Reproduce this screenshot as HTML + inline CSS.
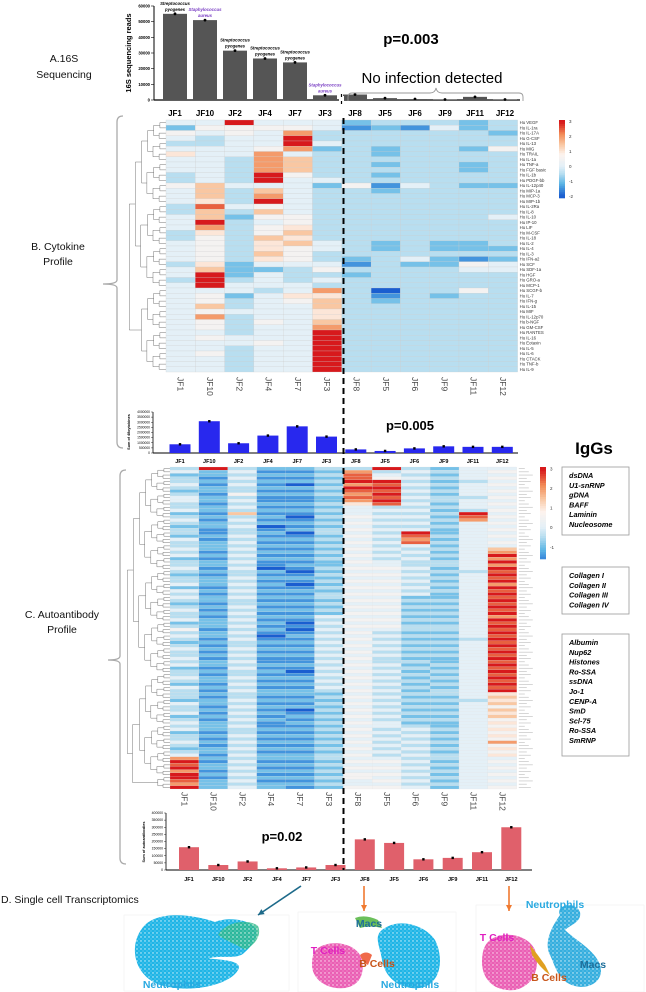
<!DOCTYPE html>
<html><head><meta charset="utf-8">
<style>
html,body{margin:0;padding:0;background:#fff;}
svg{display:block;font-family:"Liberation Sans",sans-serif;}
</style></head>
<body>
<svg id="fig" width="646" height="992" viewBox="0 0 646 992" xmlns="http://www.w3.org/2000/svg">
<defs>
<pattern id="speck" width="4" height="4" patternUnits="userSpaceOnUse"><circle cx="1" cy="1" r="0.7" fill="#fff" opacity="0.85"/><circle cx="3" cy="3" r="0.5" fill="#fff" opacity="0.6"/></pattern>
</defs>
<g id="root"></g>
</svg>
<script>
// ---------- DATA ----------
const patients = ["JF1","JF10","JF2","JF4","JF7","JF3","JF8","JF5","JF6","JF9","JF11","JF12"];
const reads16S = [55000,51000,31500,26500,24000,3000,3500,1200,600,300,2000,300];
const readTicks = [0,10000,20000,30000,40000,50000,60000];
const species = [["Streptococcus","pyogenes","#000"],["Staphylococcus","aureus","#7a3fc4"],["Streptococcus","pyogenes","#000"],["Streptococcus","pyogenes","#000"],["Streptococcus","pyogenes","#000"],["Staphylococcus","aureus","#7a3fc4"]];
const cytokineSums = [850000,3100000,950000,1700000,2600000,1600000,350000,200000,450000,650000,600000,600000];
const cytokineTicks = [0,500000,1000000,1500000,2000000,2500000,3000000,3500000,4000000];
const autoSums = [160000,35000,60000,12000,18000,35000,215000,190000,75000,85000,125000,300000];
const autoTicks = [0,50000,100000,150000,200000,250000,300000,350000,400000];
const cytokines = ["VEGF","IL-1ra","IL-17A","G-CSF","IL-13","MIG","TRAIL","IL-1a","TNF-a","FGF basic","IL-1b","PDGF-bb","IL-12p40","MIP-1a","MCP-3","MIP-1b","IL-2Ra","IL-8","IL-10","IP-10","LIF","M-CSF","IL-18","IL-2","IL-4","IL-3","IFN-a2","SCF","SDF-1a","HGF","GRO-a","MCP-1","SCGF-b","IL-7","IFN-g","IL-15","MIF","IL-12p70","b-NGF","GM-CSF","RANTES","IL-16","Eotaxin","IL-5","IL-6","CTACK","TNF-b","IL-9"];
// one string per cytokine row, one char per patient (code: digit d -> d*0.5-2, R -> 3)
const cytoRows = ["44R444233323","255554121423","545483333332","4344R3333333","3344R4333333","444582323325","644843323333","443873333333","443873323323","443873333323","343R53323333","343R44333333","574442514322","473743323333","473843333333","463R43333333","394543333333","373743333333","472553333334","4R3453333333","483563333333","363573333333","353763333333","453674323223","453654323222","453753333333","453653234212","362444132254","472235333344","4R2433233333","3R3434333333","4R4443333333","444348303353","452466313233","453457323333","473447333333","454446333333","483446333333","453547333333","453448333333","44344R333333","45444R333333","44454R333333","44344R333333","45344R333333","44344R333333","44344R333333","44344R333333"];
// autoantibody heatmap: one string per patient column, one char per antigen row
const autoCols = [
"3423343234 4334234323 3243343423 3432334243 4323433423 5343234334 3423343243 3324334234 3423343234 8R9R8RR98R",
"R221212212 2122121221 1212221212 2121222121 2212121222 1221212121 2212122121 2122121212 2212121221 2122121222",
"3434343353 4343734343 3434343434 3433434343 4334343434 3434334343 4343343434 3343434343 4334343434 3434343434",
"2121212121 1212121201 2121212121 1021212121 2121212121 2101212121 1212121212 2121212121 1212121212 2121212122",
"2121202121 1212101212 0121212121 2101210121 2121212101 0121212121 1210121212 2121201212 1212121212 2121212121",
"3232323232 2323232323 3232323232 2323232323 3232324343 4343434343 4343434343 2323232323 2323232323 3232323232",
"3899R8R989 8644454545 4545454545 4545454545 4545454545 4545454545 4545454545 4545454545 4545454545 4545455445",
"R345R9R9R9 R934343434 3434343434 4545454545 4545454545 4343434343 3434343434 3434343434 4343434343 4545454545",
"3434343434 3434343434 R989434343 3434343434 2323232323 3232323232 3232323232 3232323232 3434343434 3434343434",
"2323232323 3232323232 2323232323 3232323232 2323232323 3232323232 2323232323 3232323232 2323232323 3232323232",
"4444344443 4443R98444 4444444444 4434444444 4444444444 4443444444 4444444444 4434444444 4444444444 4444444444",
"4545454545 4545454545 4545478R8R 8R9R9R8R9R 9R9R9R8R9R 9R9R9R9R9R 9R9R9R9R9R 6767576756 5656585656 4545454545"];
const igg1 = ["dsDNA","U1-snRNP","gDNA","BAFF","Laminin","Nucleosome"];
const igg2 = ["Collagen I","Collagen II","Collagen III","Collagen IV"];
const igg3 = ["Albumin","Nup62","Histones","Ro-SSA","ssDNA","Jo-1","CENP-A","SmD","Scl-75","Ro-SSA","SmRNP"];
const colorTicks = [3,2,1,0,-1,-2];

// ---------- HELPERS ----------
const NS="http://www.w3.org/2000/svg";
const root=document.getElementById('root');
function mk(tag,attrs,parent,text){const e=document.createElementNS(NS,tag);for(const k in attrs)e.setAttribute(k,attrs[k]);if(text!==undefined)e.textContent=text;(parent||root).appendChild(e);return e;}
function code(c){return c==='R'?3:(parseInt(c,10)*0.5-2);}
const stops=[[-2,[26,94,208]],[-1.2,[91,181,229]],[-0.5,[184,222,240]],[0,[228,240,247]],[0.8,[253,243,238]],[1.5,[249,199,162]],[2.2,[242,138,85]],[3,[215,25,28]]];
function col(v){if(v<=stops[0][0])return 'rgb('+stops[0][1]+')';for(let i=1;i<stops.length;i++){if(v<=stops[i][0]){const a=stops[i-1],b=stops[i],t=(v-a[0])/(b[0]-a[0]);return 'rgb('+a[1].map((x,j)=>Math.round(x+(b[1][j]-x)*t)).join(',')+')';}}return 'rgb('+stops[stops.length-1][1]+')';}
function dendro(g,n,x0,x1,y0,rh){ // decorative tree
  let nodes=[];for(let i=0;i<n;i++)nodes.push({y:y0+(i+0.5)*rh,x:x1});
  let depth=0;
  while(nodes.length>1){depth++;const next=[];
    for(let i=0;i<nodes.length;i+=2){
      if(i+1>=nodes.length){next.push(nodes[i]);continue;}
      const a=nodes[i],b=nodes[i+1];const nx=x1-(x1-x0)*Math.min(1,depth/Math.log2(n)*0.9+ (i%4)*0.01);
      mk('path',{d:`M${a.x},${a.y}H${nx}V${b.y}H${b.x}`,fill:'none',stroke:'#777','stroke-width':0.5},g);
      next.push({x:nx,y:(a.y+b.y)/2});}
    nodes=next;}
}
function brace(g,x,y0,y1,tipY,tipX){mk('path',{d:`M${x+6},${y0}Q${x},${y0} ${x},${y0+6}V${tipY-4}Q${x},${tipY} ${tipX},${tipY}Q${x},${tipY} ${x},${tipY+4}V${y1-6}Q${x},${y1} ${x+6},${y1}`,fill:'none',stroke:'#aaa','stroke-width':1.3},g);}

// ---------- LEFT LABELS ----------
const lab=mk('g',{});
[["A.16S",64,62],["Sequencing",64,78],["B. Cytokine",58,250],["Profile",58,265],["C. Autoantibody",62,618],["Profile",62,633]].forEach(t=>mk('text',{x:t[1],y:t[2],'font-size':10.5,'text-anchor':'middle',fill:'#111'},lab,t[0]));
mk('text',{x:1,y:903,'font-size':10.5,fill:'#111',},root,"D. Single cell Transcriptomics");
const br=mk('g',{});
brace(br,117,116,448,284,103);
brace(br,120,470,864,660,108);

// ---------- A: 16S BAR CHART ----------
const gA=mk('g',{});
const aBase=100,aTop=6,aMax=60000;
const ya=v=>aBase-(v/aMax)*(aBase-aTop);
const xa=i=>175+i*30;
mk('line',{x1:154,y1:aTop,x2:154,y2:aBase,stroke:'#000','stroke-width':1},gA);
mk('line',{x1:154,y1:aBase,x2:520,y2:aBase,stroke:'#000','stroke-width':1.2},gA);
readTicks.forEach(t=>{mk('line',{x1:151,y1:ya(t),x2:154,y2:ya(t),stroke:'#000','stroke-width':0.6},gA);mk('text',{x:150,y:ya(t)+1.5,'font-size':4.2,'text-anchor':'end','font-weight':'bold'},gA,String(t));});
mk('text',{transform:`translate(131,53) rotate(-90)`,'font-size':7.5,'font-weight':'bold','text-anchor':'middle',},gA,"16S sequencing reads");
reads16S.forEach((v,i)=>{
  const b=mk('rect',{x:xa(i)-12,y:ya(v),width:24,height:aBase-ya(v),fill:'#555'},gA);
  
  
  mk('circle',{cx:xa(i),cy:ya(v),r:1.4,fill:'#000'},gA);
  mk('text',{x:xa(i),y:116,'font-size':8,'font-weight':'bold','text-anchor':'middle'},gA,patients[i]);
});
species.forEach((s,i)=>{const ty=ya(reads16S[i])-9;mk('text',{x:xa(i),y:ty,'font-size':4.3,'font-style':'italic','font-weight':'bold','text-anchor':'middle',fill:s[2]},gA,s[0]);mk('text',{x:xa(i),y:ty+6,'font-size':4.3,'font-style':'italic','font-weight':'bold','text-anchor':'middle',fill:s[2]},gA,s[1]);});
mk('rect',{x:339,y:96,width:5,height:8,fill:'#fff'},gA);
mk('line',{x1:341.5,y1:94,x2:341.5,y2:97,stroke:'#000','stroke-width':1.2},gA);
mk('line',{x1:341.5,y1:101,x2:341.5,y2:104,stroke:'#000','stroke-width':1.2},gA);
mk('text',{x:411,y:44,'font-size':15,'font-weight':'bold','text-anchor':'middle',},gA,"p=0.003");
mk('text',{x:432,y:83,'font-size':15,'text-anchor':'middle',},gA,"No infection detected");
mk('path',{d:'M348,101V97Q348,93 352,93H430Q435,93 436,88Q437,93 442,93H519Q523,93 523,97V101',fill:'none',stroke:'#999','stroke-width':0.9,},gA);

// ---------- B: CYTOKINE HEATMAP ----------
const gB=mk('g',{});
const bx0=166,bcw=29.3,by0=120,brh=5.25;
dendro(gB,cytokines.length,128,bx0,by0,brh);
cytoRows.forEach((row,r)=>{row.split('').forEach((c,j)=>{
  const cell=mk('rect',{x:bx0+j*bcw,y:by0+r*brh,width:bcw,height:brh,fill:col(code(c)),stroke:'#ccc','stroke-width':0.25},gB);
  
  
});
  mk('text',{x:bx0+12*bcw+2,y:by0+r*brh+brh*0.8,'font-size':4.3,fill:'#333'},gB,"Hu "+cytokines[r]);
});
patients.forEach((p,j)=>{
  mk('text',{transform:`translate(${bx0+(j+0.5)*bcw-3},${by0+48*brh+5}) rotate(90)`,'font-size':8.5,fill:'#444'},gB,p);
});
function colorbar(g,x,y,h,lo,hi){const n=40;for(let i=0;i<n;i++){const v=hi-(hi-lo)*i/(n-1);mk('rect',{x:x,y:y+i*h/n,width:6,height:h/n+0.3,fill:col(v)},g);}
  colorTicks.forEach(t=>{if(t>=lo&&t<=hi)mk('text',{x:x+10,y:y+(hi-t)/(hi-lo)*h+1.5,'font-size':4.5,fill:'#333'},g,String(t));});}
const cb1=mk('g',{},gB);
colorbar(cb1,559,120,78,-2.1,3.1);

// ---------- B: CYTOKINE SUM BAR ----------
const gB2=mk('g',{});
const cBase=453,cTop=412,cMax=4000000;
const yc=v=>cBase-(v/cMax)*(cBase-cTop);
const xc=i=>180+i*29.3;
mk('line',{x1:153,y1:cTop,x2:153,y2:cBase,stroke:'#000','stroke-width':0.8},gB2);
mk('line',{x1:153,y1:cBase,x2:518,y2:cBase,stroke:'#000','stroke-width':1},gB2);
cytokineTicks.forEach(t=>{mk('line',{x1:151,y1:yc(t),x2:153,y2:yc(t),stroke:'#000','stroke-width':0.4},gB2);mk('text',{x:150,y:yc(t)+1,'font-size':3.3,'text-anchor':'end'},gB2,String(t));});
mk('text',{transform:`translate(130,432) rotate(-90)`,'font-size':3.8,'font-weight':'bold','text-anchor':'middle'},gB2,"Sum of 48cytokines");
cytokineSums.forEach((v,i)=>{
  const b=mk('rect',{x:xc(i)-10.5,y:yc(v),width:21,height:cBase-yc(v),fill:'#2828ee'},gB2);
  
  
  mk('rect',{x:xc(i)-1.2,y:yc(v)-1.2,width:2.4,height:2.4,fill:'#000'},gB2);
  mk('text',{x:xc(i),y:463,'font-size':5.5,'font-weight':'bold','text-anchor':'middle'},gB2,patients[i]);
});
mk('text',{x:410,y:430,'font-size':13,'font-weight':'bold','text-anchor':'middle',},gB2,"p=0.005");
mk('text',{x:594,y:454,'font-size':17,'font-weight':'bold','text-anchor':'middle',},root,"IgGs");

// ---------- C: AUTOANTIBODY HEATMAP ----------
const gC=mk('g',{});
const cx0=170,ccw=28.9,cy0=467;
const colsParsed=autoCols.map(s=>s.replace(/ /g,'').split(''));
const nRows=colsParsed[0].length, crh=(789-cy0)/nRows;
dendro(gC,nRows,125,cx0,cy0,crh);
colsParsed.forEach((colv,j)=>{colv.forEach((c,r)=>{
  const cell=mk('rect',{x:cx0+j*ccw,y:cy0+r*crh,width:ccw,height:crh,fill:col(code(c)),stroke:'#ddd','stroke-width':0.15},gC);
  
  
});});
for(let r=0;r<nRows;r+=1){mk('line',{x1:cx0+12*ccw+2,y1:cy0+(r+0.5)*crh,x2:cx0+12*ccw+2+6+(r*7%5)*2,y2:cy0+(r+0.5)*crh,stroke:'#bbb','stroke-width':0.6},gC);}
patients.forEach((p,j)=>{mk('text',{transform:`translate(${cx0+(j+0.5)*ccw-3},792) rotate(90)`,'font-size':8.5,fill:'#444'},gC,p);});
const cb2=mk('g',{},gC);
colorbar(cb2,540,467,92,-1.6,3.1);
function box(list,y0,y1,name){const g=mk('g',{});mk('rect',{x:562,y:y0,width:67,height:y1-y0,fill:'#fff',stroke:'#999','stroke-width':0.8},g);list.forEach((t,i)=>mk('text',{x:569,y:y0+11+i*9.8,'font-size':7.3,'font-weight':'bold','font-style':'italic'},g,t));}
box(igg1,467,535,'igg-group-1');
box(igg2,567,614,'igg-group-2');
box(igg3,634,756,'igg-group-3');

// ---------- C: AUTOANTIBODY SUM BAR ----------
const gC2=mk('g',{});
const dBase=870,dTop=813,dMax=400000;
const yd=v=>dBase-(v/dMax)*(dBase-dTop);
const xd=i=>189+i*29.3;
mk('line',{x1:166,y1:dTop,x2:166,y2:dBase,stroke:'#000','stroke-width':0.8},gC2);
mk('line',{x1:166,y1:dBase,x2:532,y2:dBase,stroke:'#000','stroke-width':1},gC2);
autoTicks.forEach(t=>{mk('line',{x1:164,y1:yd(t),x2:166,y2:yd(t),stroke:'#000','stroke-width':0.4},gC2);mk('text',{x:163,y:yd(t)+1,'font-size':3.4,'text-anchor':'end'},gC2,String(t));});
mk('text',{transform:`translate(145,842) rotate(-90)`,'font-size':3.8,'font-weight':'bold','text-anchor':'middle'},gC2,"Sum of autoantibodies");
autoSums.forEach((v,i)=>{
  const b=mk('rect',{x:xd(i)-10,y:yd(v),width:20,height:dBase-yd(v),fill:'#e0606b'},gC2);
  
  
  mk('rect',{x:xd(i)-1.2,y:yd(v)-1.2,width:2.4,height:2.4,fill:'#000'},gC2);
  mk('text',{x:xd(i),y:881,'font-size':5.5,'font-weight':'bold','text-anchor':'middle'},gC2,patients[i]);
});
mk('text',{x:282,y:841,'font-size':13,'font-weight':'bold','text-anchor':'middle',},gC2,"p=0.02");

// dashed separator
mk('line',{x1:343.5,y1:118,x2:343.5,y2:870,stroke:'#000','stroke-width':2,'stroke-dasharray':'6,4',});

// ---------- D: UMAPs ----------
const gD=mk('g',{});
function blob(d,fill,name){const g=mk('g',{},gD);mk('path',{d:d,fill:fill},g);mk('path',{d:d,fill:'url(#speck)'},g);}
// panel 1
mk('rect',{x:124,y:915,width:165,height:76,fill:'none',stroke:'#eee','stroke-width':0.5},gD);
blob('M205,948C200,938 190,933 178,935C162,938 160,955 172,962C182,968 200,962 210,958C225,955 238,960 245,952C258,940 260,930 252,925C242,918 225,918 215,922C195,915 160,910 145,925C128,942 132,975 160,985C190,994 230,985 238,970C244,960 220,960 205,958Z','#1fb5e6','umap-jf7');
mk('path',{d:'M218,935C225,922 248,918 258,926C262,935 255,945 245,950C238,945 228,942 218,935Z',fill:'#2fb88a',opacity:0.8},gD);
mk('path',{d:'M218,935C225,922 248,918 258,926C262,935 255,945 245,950C238,945 228,942 218,935Z',fill:'url(#speck)'},gD);
// panel 2
mk('rect',{x:298,y:912,width:158,height:80,fill:'none',stroke:'#eee','stroke-width':0.5},gD);
blob('M385,928C400,918 425,925 435,940C445,960 440,985 420,988C400,990 385,978 382,960C380,945 372,935 385,928Z','#1fb5e6','umap-jf8-neutrophils');
blob('M318,948C330,940 352,942 360,955C366,970 362,985 345,988C325,990 312,978 312,965C312,957 313,952 318,948Z','#ea5fb4','umap-jf8-tcells');
mk('path',{d:'M355,918Q365,914 378,920L382,928Q370,925 360,928Z',fill:'#6bbf5a'},gD);
mk('path',{d:'M360,955Q366,950 372,955L368,965Q362,962 360,955Z',fill:'#f06a4a'},gD);
// panel 3
mk('rect',{x:476,y:905,width:168,height:87,fill:'none',stroke:'#eee','stroke-width':0.5},gD);
blob('M560,915C555,905 575,900 580,912C582,922 570,925 565,930C575,940 595,950 600,965C605,980 590,990 575,986C558,982 555,965 550,955C545,945 548,932 560,915Z','#35aede','umap-jf12-neutrophils');
blob('M490,940C505,930 528,935 535,950C540,965 536,985 515,990C495,992 482,980 482,962C482,952 484,945 490,940Z','#ea5fb4','umap-jf12-tcells');
mk('path',{d:'M530,945Q538,955 545,965L550,975Q540,968 532,955Z',fill:'#e0a020'},gD);
// arrows
function arrow(x1,y1,x2,y2,c,name){const g=mk('g',{},gD);mk('line',{x1,y1,x2,y2,stroke:c,'stroke-width':1.6},g);const a=Math.atan2(y2-y1,x2-x1);const p=[[x2,y2],[x2-6*Math.cos(a)+3*Math.sin(a),y2-6*Math.sin(a)-3*Math.cos(a)],[x2-6*Math.cos(a)-3*Math.sin(a),y2-6*Math.sin(a)+3*Math.cos(a)]];mk('polygon',{points:p.map(q=>q.join(',')).join(' '),fill:c},g);}
arrow(301,886,258,915,'#1d6a8a','arrow-jf7');
arrow(364,886,364,911,'#f07a30','arrow-jf8');
arrow(509,886,509,911,'#f07a30','arrow-jf12');
const lb=[["Neutrophils",172,988,'#29a9e0'],["Macs",369,927,'#1f6f9a'],["T Cells",328,954,'#e020c0'],["B Cells",377,967,'#c8551a'],["Neutrophils",410,988,'#29a9e0'],["Neutrophils",555,908,'#29a9e0'],["T Cells",497,941,'#e020c0'],["B Cells",549,981,'#c8551a'],["Macs",593,968,'#1f6f9a']];
lb.forEach(t=>{const e=mk('text',{x:t[1],y:t[2],'font-size':10.5,'font-weight':'bold','text-anchor':'middle',fill:t[3]},gD,t[0]);});
</script>
</body></html>
